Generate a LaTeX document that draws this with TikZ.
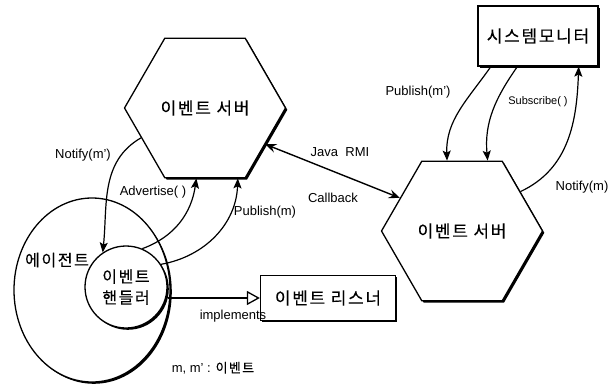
\documentclass[tikz,border=0pt]{standalone}
\usepackage{fontspec}
\setmainfont{Liberation Sans}
\newfontfamily\kr[LetterSpace=10, FakeBold=0.2]{Noto Sans CJK KR}
\usetikzlibrary{shapes.geometric,shadows,arrows.meta}

\tikzset{
  heavyedge/.style={general shadow={fill=black, shadow xshift=1.8pt, shadow yshift=-1.8pt}},
  server/.style={regular polygon, regular polygon sides=6, minimum size=161pt, inner sep=0pt,
    draw, line width=1.3pt, fill=white, heavyedge, font=\kr\fontsize{17}{20}\selectfont},
  box/.style={rectangle, draw, line width=1.3pt, fill=white, heavyedge,
    font=\kr\fontsize{17}{20}\selectfont},
  agentshape/.style={ellipse, draw, line width=1.3pt, fill=white, heavyedge,
    minimum width=156pt, minimum height=184pt, inner sep=0pt},
  handlershape/.style={circle, draw, line width=1.3pt, fill=white, heavyedge,
    minimum size=82pt, inner sep=0pt, align=center, font=\kr\fontsize{16}{21}\selectfont},
  lbl/.style={inner sep=1pt, font=\fontsize{13}{15}\selectfont},
  krlbl/.style={inner sep=1pt, font=\kr\fontsize{16}{18}\selectfont},
  msg/.style={line width=1.2pt, -{Stealth[length=10pt, width=8pt, inset=2pt]}},
  rmi/.style={line width=1.4pt, {Stealth[length=11pt, width=9pt, inset=4pt]}-{Stealth[length=11pt, width=9pt, inset=4pt]}},
  impl/.style={line width=1.2pt, -{Triangle[open, length=13pt, width=14pt, line width=1.3pt]}}
}

\begin{document}
\begin{tikzpicture}[x=1pt,y=1pt]
    \useasboundingbox (0,0) rectangle (612,384);

    % Defining the servers, the agent and the boxes
    \node[server] (leftsrv) at (205,276) {이벤트 서버};
    \node[server] (rightsrv) at (462,153) {이벤트 서버};
    \node[box, minimum width=120pt, minimum height=60pt] (monitor) at (538,348) {시스템모니터};
    \node[agentshape] (agent) at (92,94) {};
    \node[handlershape] (handler) at (126,97) {이벤트\\핸들러};
    \node[box, minimum width=135pt, minimum height=45pt] (listener) at (328,86) {이벤트 리스너};

    % Labels
    \node[krlbl] (agentlbl) at (57,124) {에이전트};
    \node[lbl] (notifyp) at (83,229) {Notify(m')};
    \node[lbl] (advertise) at (153,192) {Advertise( )};
    \node[lbl] (publishm) at (265,172) {Publish(m)};
    \node[lbl] (javarmi) at (340,232) {Java\ \ RMI};
    \node[lbl] (callback) at (333,186) {Callback};
    \node[lbl] (publishp) at (418,292) {Publish(m')};
    \node[lbl, font=\fontsize{11}{13}\selectfont] (subscribe) at (538,282) {Subscribe( )};
    \node[lbl] (notifym) at (582,197) {Notify(m)};
    \node[lbl] (implements) at (233,68) {implements};
    \node[lbl] (legend) at (213,16) {m, m' : {\kr\fontsize{13}{15}\selectfont 이벤트}};

    % Defining the links between the nodes
    \draw[msg] (leftsrv.205) to[out=210, in=84] (handler.124);
    \draw[msg] (handler.67) to[out=20, in=262] (leftsrv.263);
    \draw[msg] (handler.33) to[out=10, in=268] (leftsrv.295);
    \draw[rmi] (leftsrv.329) -- (rightsrv.152);
    \draw[msg] (monitor.213) to[out=235, in=92] (rightsrv.102);
    \draw[msg] (monitor.236) to[out=235, in=95] (rightsrv.70);
    \draw[msg] (rightsrv.34) to[out=25, in=268] (monitor.323);
    \draw[impl] (listener.west -| handler.east) -- (listener.west);

\end{tikzpicture}
\end{document}
